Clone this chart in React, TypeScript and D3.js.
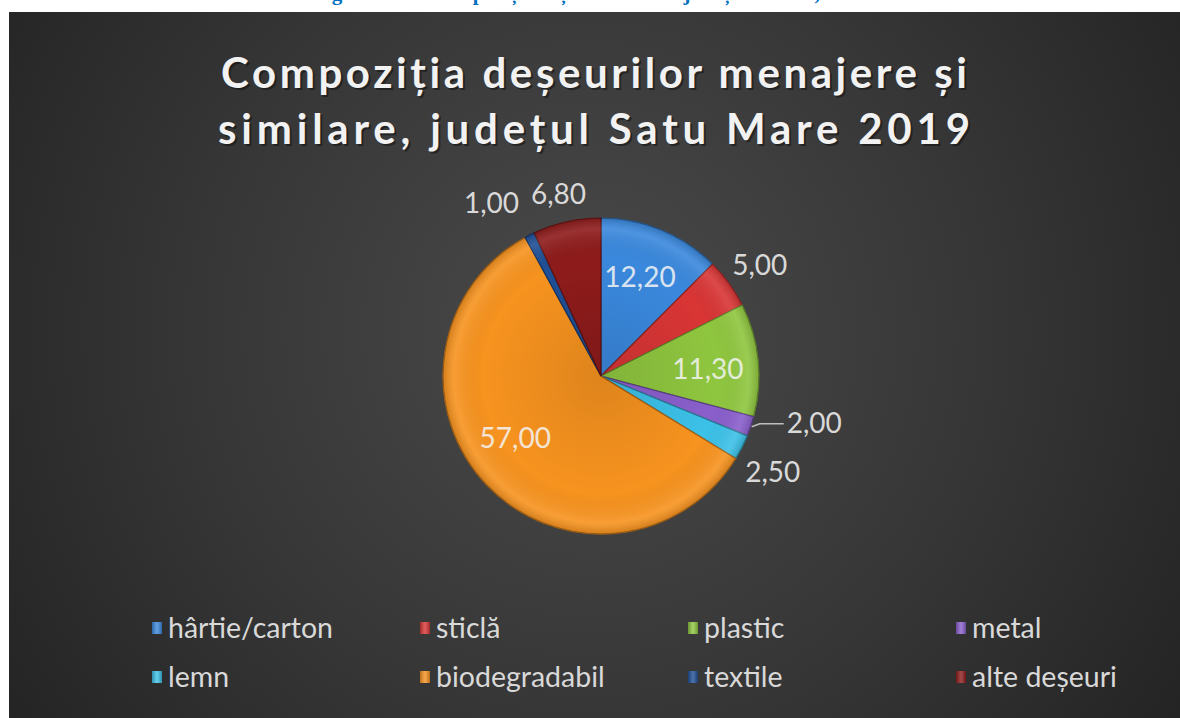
import * as d3 from "d3";

const W = 1180;
const H = 718;

const categories = [
  "hârtie/carton",
  "sticlă",
  "plastic",
  "metal",
  "lemn",
  "biodegradabil",
  "textile",
  "alte deșeuri",
];
const values = [12.2, 5.0, 11.3, 2.0, 2.5, 57.0, 1.0, 6.8];

const titleLines = [
  "Compoziția deșeurilor menajere și",
  "similare, județul Satu Mare 2019",
];
const captionText = "Figura nr. 3. Compoziția deșeurilor menajere și similare, 2019";

const COLORS = [
  "#3a88dd",
  "#d93535",
  "#8fc63f",
  "#8a5fcc",
  "#3cc1e8",
  "#f7931f",
  "#1f4f96",
  "#8e1b1b",
];

// label placement: inside / outside / with leader line, plus small nudges
const LABEL_LAYOUT: Record<string, { mode: string; dx: number; dy: number }> = {
  "hârtie/carton": { mode: "in", dx: -2, dy: 0 },
  sticlă: { mode: "out", dx: 0, dy: 4 },
  plastic: { mode: "in", dx: 0, dy: 4 },
  metal: { mode: "leader", dx: 0, dy: 0 },
  lemn: { mode: "out", dx: -3, dy: 8 },
  biodegradabil: { mode: "in", dx: -8, dy: -12 },
  textile: { mode: "out", dx: -21, dy: 2 },
  "alte deșeuri": { mode: "out", dx: 0, dy: 9 },
};

type Datum = { label: string; value: number; color: string };

const fmt = (v: number) => v.toFixed(2).replace(".", ",");

export default function App() {
  const data: Datum[] = categories.map((c, i) => ({
    label: c,
    value: values[i],
    color: COLORS[i],
  }));

  const cx = 601;
  const cy = 376;
  const R = 158;

  const pie = d3
    .pie<Datum>()
    .value((d) => d.value)
    .sort(null);
  const arcs = pie(data);

  const arc = d3.arc<d3.PieArcDatum<Datum>>().innerRadius(0).outerRadius(R);

  const polar = (a: number, r: number): [number, number] => [
    Math.sin(a) * r,
    -Math.cos(a) * r,
  ];

  const legendX = d3.scaleLinear().domain([0, 3]).range([152, 956]);
  const legendY = d3.scaleLinear().domain([0, 1]).range([628, 677]);

  const labelFont = "Lato, 'Open Sans', sans-serif";

  return (
    <svg
      width={W}
      height={H}
      style={{ position: "absolute", left: 0, top: 0 }}
      fontFamily={labelFont}
    >
      <defs>
        <radialGradient
          id="bg"
          gradientUnits="userSpaceOnUse"
          cx={590}
          cy={330}
          r={720}
        >
          <stop offset="0" stopColor="#4a4a4a" />
          <stop offset="0.55" stopColor="#363636" />
          <stop offset="1" stopColor="#232323" />
        </radialGradient>
        <radialGradient id="bevel" gradientUnits="userSpaceOnUse" cx={0} cy={0} r={R}>
          <stop offset="0" stopColor="#000" stopOpacity={0.1} />
          <stop offset="0.75" stopColor="#000" stopOpacity={0} />
          <stop offset="0.93" stopColor="#fff" stopOpacity={0.1} />
          <stop offset="1" stopColor="#000" stopOpacity={0.15} />
        </radialGradient>
        <linearGradient id="mk" x1="0" y1="0" x2="1" y2="0">
          <stop offset="0" stopColor="#000" stopOpacity={0.25} />
          <stop offset="0.5" stopColor="#fff" stopOpacity={0.2} />
          <stop offset="1" stopColor="#000" stopOpacity={0.25} />
        </linearGradient>
      </defs>

      <rect x={0} y={0} width={W} height={H} fill="#fff" />
      <text
        x={590}
        y={0}
        textAnchor="middle"
        fontFamily="'Liberation Serif', serif"
        fontWeight="bold"
        fontSize={21}
        fill="#0070c0"
      >
        {captionText}
      </text>
      <rect x={9} y={12} width={W - 9} height={H - 12} fill="url(#bg)" />

      {titleLines.map((t, i) => (
        <g key={t}>
          <text
            x={596}
            y={90 + i * 56}
            textAnchor="middle"
            fontSize={42}
            fontWeight="bold"
            fill="#111"
            opacity={0.55}
            textLength={i === 0 ? 746 : 752}
            lengthAdjust="spacing"
          >
            {t}
          </text>
          <text
            x={594}
            y={88 + i * 56}
            textAnchor="middle"
            fontSize={42}
            fontWeight="bold"
            fill="#f2f2f2"
            textLength={i === 0 ? 746 : 752}
            lengthAdjust="spacing"
          >
            {t}
          </text>
        </g>
      ))}

      <g transform={`translate(${cx},${cy})`}>
        {arcs.map((a) => (
          <path
            key={a.data.label}
            d={arc(a) ?? ""}
            fill={a.data.color}
            stroke={d3.color(a.data.color)?.darker(1.2).formatHex()}
            strokeWidth={1.2}
          />
        ))}
        <circle r={R} fill="url(#bevel)" />

        {arcs.map((a) => {
          const lay = LABEL_LAYOUT[a.data.label];
          const mid = (a.startAngle + a.endAngle) / 2;
          if (lay.mode === "leader") {
            const [x0, y0] = polar(mid, R + 1);
            const x1 = x0 + 32;
            const y1 = y0 - 3;
            return (
              <g key={a.data.label}>
                <polyline
                  points={`${x0},${y0} ${x0 + 8},${y1} ${x1},${y1}`}
                  fill="none"
                  stroke="#bfbfbf"
                  strokeWidth={1.5}
                />
                <text
                  x={x1 + 3}
                  y={y1}
                  dy="0.35em"
                  fontSize={28}
                  fill="#d9d9d9"
                >
                  {fmt(a.data.value)}
                </text>
              </g>
            );
          }
          const k = lay.mode === "in" ? 0.68 : 1.24;
          const [x, y] = polar(mid, R * k);
          return (
            <text
              key={a.data.label}
              x={x + lay.dx}
              y={y + lay.dy}
              dy="0.35em"
              textAnchor="middle"
              fontSize={28}
              fill={lay.mode === "in" ? "#f4f4f4" : "#d9d9d9"}
              opacity={lay.mode === "in" ? 0.85 : 1}
            >
              {fmt(a.data.value)}
            </text>
          );
        })}
      </g>

      {data.map((d, i) => {
        const x = legendX(i % 4);
        const y = legendY(Math.floor(i / 4));
        return (
          <g key={d.label}>
            <rect x={x} y={y - 6} width={10} height={12} fill={d.color} />
            <rect x={x} y={y - 6} width={10} height={12} fill="url(#mk)" />
            <text
              x={x + 16}
              y={y}
              dy="0.35em"
              fontSize={28.5}
              fill="#d9d9d9"
            >
              {d.label}
            </text>
          </g>
        );
      })}
    </svg>
  );
}
